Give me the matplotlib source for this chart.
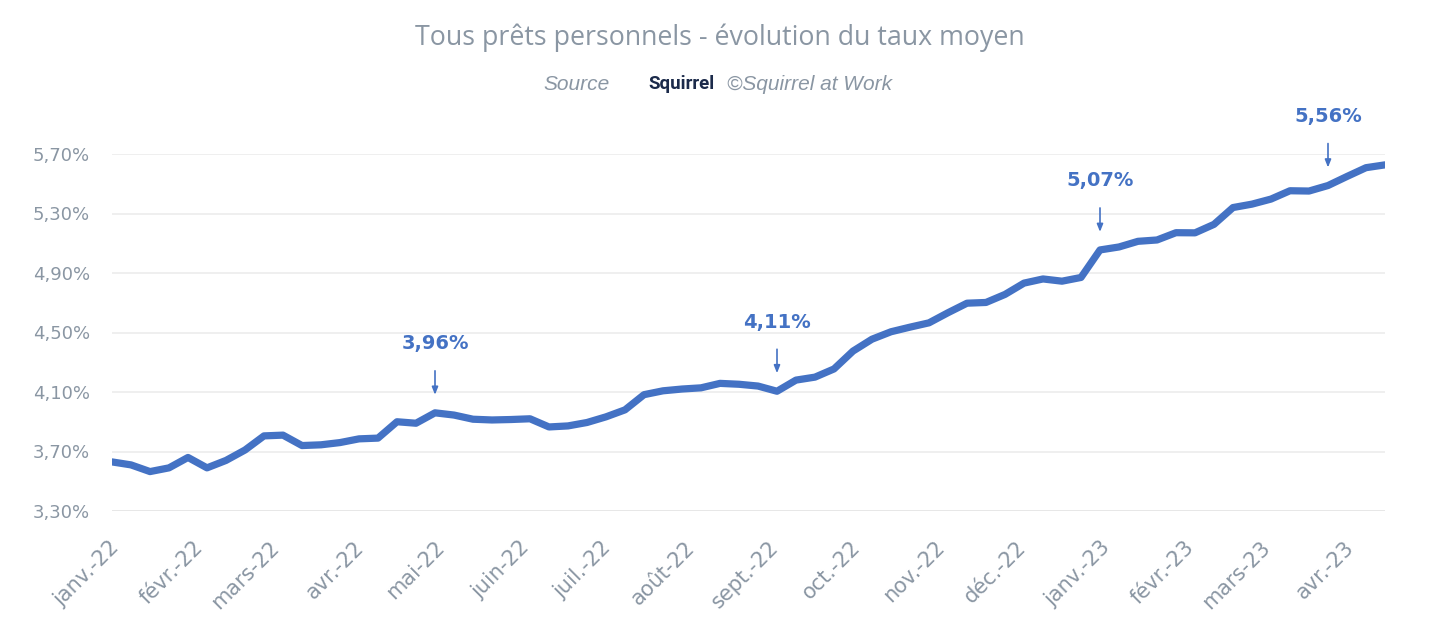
import numpy as np
import pandas as pd
import matplotlib
matplotlib.use('Agg')
import matplotlib.pyplot as plt
import matplotlib.transforms as mtransforms
from matplotlib.ticker import FuncFormatter

# Donnees hebdo
semaines = pd.date_range('2022-01-01', periods=68, freq='7D')
taux = [3.63, 3.61, 3.565, 3.59, 3.66, 3.59, 3.64, 3.71, 3.805, 3.81,
        3.74, 3.745, 3.76, 3.785, 3.79, 3.90, 3.89, 3.96, 3.945, 3.917,
        3.912, 3.915, 3.92, 3.865, 3.872, 3.895, 3.933, 3.98, 4.082, 4.108,
        4.12, 4.128, 4.158, 4.152, 4.14, 4.105, 4.18, 4.20, 4.255, 4.375,
        4.455, 4.505, 4.536, 4.565, 4.633, 4.697, 4.702, 4.756, 4.832, 4.86,
        4.845, 4.87, 5.055, 5.075, 5.113, 5.122, 5.171, 5.17, 5.227, 5.34,
        5.363, 5.397, 5.453, 5.451, 5.488, 5.549, 5.608, 5.627]

mois_ticks = pd.date_range('2022-01-01', '2023-04-01', freq='MS')
mois_labels = ['janv.-22', 'févr.-22', 'mars-22', 'avr.-22', 'mai-22', 'juin-22',
               'juil.-22', 'août-22', 'sept.-22', 'oct.-22', 'nov.-22', 'déc.-22',
               'janv.-23', 'févr.-23', 'mars-23', 'avr.-23']
y_ticks = [3.30, 3.70, 4.10, 4.50, 4.90, 5.30, 5.70]

ann_idx = [17, 35, 52, 64]
ann_labels = ['3,96%', '4,11%', '5,07%', '5,56%']

bleu = '#4472C4'
gris = '#8A96A3'

fig = plt.figure(figsize=(14.4, 6.4), dpi=100)
ax = fig.add_axes([112/1440, 1 - 511/640, 1273/1440, 357/640])

ax.plot(semaines, taux, color=bleu, lw=5.2, solid_joinstyle='round',
        solid_capstyle='round', zorder=3)

ax.set_xlim(semaines[0], semaines[-1])
ax.set_ylim(3.30, 5.70)
ax.set_yticks(y_ticks)
ax.yaxis.set_major_formatter(FuncFormatter(lambda v, p: f'{v:.2f}%'.replace('.', ',')))
ax.set_xticks(mois_ticks)
ax.set_xticklabels(mois_labels, rotation=45, ha='right', va='top')

ax.tick_params(axis='y', length=0, pad=16, labelsize=13, labelcolor=gris)
ax.tick_params(axis='x', length=0, pad=19, labelsize=15, labelcolor=gris)
decal = mtransforms.ScaledTranslation(-3/100, 0, fig.dpi_scale_trans)
for t in ax.get_xticklabels():
    t.set_family('DejaVu Sans')
    t.set_rotation_mode('anchor')
    t.set_transform(t.get_transform() + decal)
for t in ax.get_yticklabels():
    t.set_family('DejaVu Sans')

ax.grid(axis='y', color='#EBEBEB', lw=1.1)
ax.grid(axis='x', visible=False)
for s in ax.spines.values():
    s.set_visible(False)
ax.axhline(3.30, color='#D9D9D9', lw=1.3, zorder=1)

# annotations
for i, lab in zip(ann_idx, ann_labels):
    ax.annotate('', xy=(semaines[i], taux[i]), xytext=(0, 42),
                textcoords='offset pixels',
                arrowprops=dict(arrowstyle='-|>,head_width=0.18,head_length=0.45',
                                color=bleu, lw=1.2, shrinkA=0, shrinkB=13))
    ax.annotate(lab, xy=(semaines[i], taux[i]), xytext=(0, 69),
                textcoords='offset pixels', ha='center', va='center',
                color=bleu, fontsize=14, fontweight='bold', family='DejaVu Sans',
                annotation_clip=False)

# titre et source
fig.text(0.5, 1 - 38/640, 'Tous prêts personnels - évolution du taux moyen',
         ha='center', va='center', fontsize=19.25, color=gris, family='Open Sans')
fig.text(610/1440, 1 - 84/640, 'Source', ha='right', va='center', fontsize=15,
         color=gris, style='italic', family='Liberation Sans')
fig.text(648/1440, 1 - 84/640, 'Squirrel', ha='left', va='center', fontsize=13.5,
         color='#1B2A4A', fontweight='bold', family='Roboto')
fig.text(727/1440, 1 - 84/640, '©Squirrel at Work', ha='left', va='center', fontsize=15,
         color=gris, style='italic', family='Liberation Sans')

fig.savefig('out.png', dpi=100, facecolor='white')
